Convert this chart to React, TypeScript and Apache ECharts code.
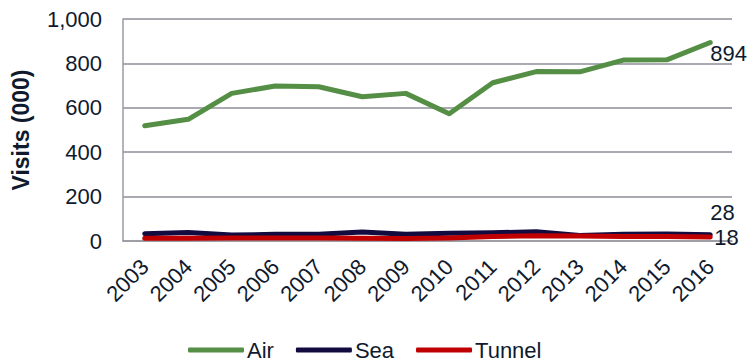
import React, { useEffect, useRef } from "react";
import * as echarts from "echarts";

const years = ["2003","2004","2005","2006","2007","2008","2009","2010","2011","2012","2013","2014","2015","2016"];
const air = [519, 548, 665, 698, 695, 650, 665, 573, 713, 763, 762, 815, 816, 894];
const sea = [33, 38, 27, 30, 30, 40, 30, 35, 37, 42, 25, 30, 32, 28];
const tunnel = [12, 12, 13, 14, 14, 12, 11, 14, 20, 24, 22, 20, 20, 18];
const yTicks = [0, 200, 400, 600, 800, 1000];

const textColor = "#0f1a2e";
const font = "Liberation Sans, Arial, sans-serif";

export default function App() {
  const ref = useRef<HTMLDivElement>(null);
  useEffect(() => {
    const chart = echarts.init(ref.current!, null, { renderer: "svg" });
    const mk = (name: string, data: number[], color: string, offset: number[]) => ({
      name,
      type: "line",
      data,
      symbol: "none",
      showSymbol: false,
      lineStyle: { color, width: 5, cap: "round", join: "round" },
      itemStyle: { color },
      endLabel: {
        show: true,
        distance: 2,
        offset,
        color: textColor,
        fontSize: 22,
        fontFamily: font,
        formatter: (p: any) => String(p.value),
      },
    });
    chart.setOption({
      animation: false,
      textStyle: { fontFamily: font },
      grid: { left: 123, right: 23, top: 19, bottom: 122 },
      legend: {
        top: 339,
        left: 188,
        padding: 0,
        itemWidth: 56,
        itemHeight: 5,
        itemGap: 22,
        icon: "roundRect",
        textStyle: { color: textColor, fontSize: 22, lineHeight: 22, fontFamily: font, padding: [0, 0, 0, -2] },
        data: ["Air", "Sea", "Tunnel"],
      },
      xAxis: {
        type: "category",
        data: years,
        boundaryGap: true,
        axisLine: { show: true, lineStyle: { color: "#9a9aa2", width: 1.5 } },
        axisTick: { show: false },
        axisLabel: { rotate: 45, color: textColor, fontSize: 22, fontFamily: font, margin: 22, interval: 0 },
      },
      yAxis: {
        type: "value",
        min: 0,
        max: 1000,
        interval: 200,
        name: "Visits (000)",
        nameLocation: "middle",
        nameGap: 91,
        nameTextStyle: { color: textColor, fontSize: 23, fontWeight: "bold", fontFamily: font },
        axisLine: { show: true, lineStyle: { color: "#9a9aa2", width: 1.5 } },
        axisTick: { show: false },
        splitLine: { lineStyle: { color: "#8e8e98", width: 1.5 } },
        axisLabel: {
          color: textColor,
          fontSize: 22,
          fontFamily: font,
          margin: 21,
          formatter: (v: number) => (yTicks.includes(v) ? v.toLocaleString("en-US") : ""),
        },
      },
      series: [
        mk("Air", air, "#558e45", [-2, 11]),
        mk("Sea", sea, "#110b40", [-2, -22]),
        mk("Tunnel", tunnel, "#c00000", [2, 0]),
      ],
    });
    return () => chart.dispose();
  }, []);
  return <div ref={ref} style={{ width: 755, height: 363, position: "absolute", left: 0, top: 0 }} />;
}
